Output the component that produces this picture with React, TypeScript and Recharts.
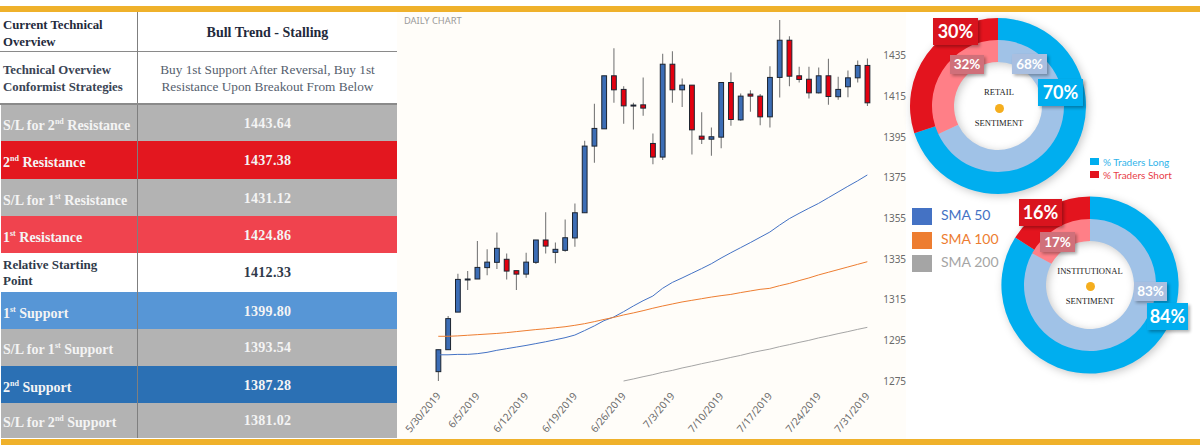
import React from "react";
import { ComposedChart, Bar, Line, XAxis, YAxis, PieChart, Pie, Cell } from "recharts";

const dates = ["5/30/2019","5/31/2019","6/3/2019","6/4/2019","6/5/2019","6/6/2019","6/7/2019","6/10/2019","6/11/2019","6/12/2019","6/13/2019","6/14/2019","6/17/2019","6/18/2019","6/19/2019","6/20/2019","6/21/2019","6/24/2019","6/25/2019","6/26/2019","6/27/2019","6/28/2019","7/1/2019","7/2/2019","7/3/2019","7/4/2019","7/5/2019","7/8/2019","7/9/2019","7/10/2019","7/11/2019","7/12/2019","7/15/2019","7/16/2019","7/17/2019","7/18/2019","7/19/2019","7/22/2019","7/23/2019","7/24/2019","7/25/2019","7/26/2019","7/29/2019","7/30/2019","7/31/2019"];
const tickDates = ["5/30/2019","6/5/2019","6/12/2019","6/19/2019","6/26/2019","7/3/2019","7/10/2019","7/17/2019","7/24/2019","7/31/2019"];
const priceTicks = [1275,1295,1315,1335,1355,1375,1395,1415,1435];

const opens = [1279.6,1290.4,1308.9,1325,1325.2,1330.8,1333.4,1334.9,1329.3,1327.6,1333.4,1344.4,1338.3,1339.3,1345.4,1357.8,1390.6,1399.1,1425.2,1418.5,1410.8,1410.9,1391.9,1385.2,1430.9,1418.3,1420.6,1395.5,1394,1395,1421.9,1403.5,1416.2,1415.2,1405,1424.4,1442.7,1425.2,1423.5,1416.8,1425.2,1414.9,1419.8,1424.2,1430.3];
const closes = [1290.4,1305.7,1325,1325.2,1330.9,1333.5,1340.3,1329.1,1327.6,1333.5,1344.4,1341.4,1339.8,1345.5,1357.8,1390.6,1399.3,1425.2,1418.3,1410.4,1410.6,1409.3,1385.2,1430.9,1418.3,1420.6,1398.6,1394,1395.2,1421.9,1403.7,1415.2,1415.2,1405,1424.4,1442.7,1425,1423.4,1416.8,1425.2,1415,1418.5,1424.2,1430.3,1411.9];
const highs = [1290.4,1307,1327.8,1329.1,1343.9,1339.8,1348.1,1337.8,1329.3,1338.1,1344.4,1358.1,1343.2,1354.5,1362.4,1393.2,1411.4,1425.2,1438.8,1420.1,1411.9,1424.4,1396.8,1436,1437.3,1423.9,1420.6,1407.3,1399.8,1421.9,1426.8,1416.5,1418.1,1416.2,1429.9,1452.6,1444.7,1429.6,1429.6,1429.3,1433.6,1424.7,1427.8,1432.7,1433.7];
const lows = [1275,1290.4,1308.9,1319.8,1325.2,1327,1330.1,1325,1319.8,1325.8,1332.6,1337.8,1332.9,1338.6,1341.1,1357.8,1382.4,1399.1,1411.9,1401.6,1398.8,1405.5,1381.7,1383.7,1411.9,1409.9,1386.5,1391.6,1385.8,1389.6,1400.6,1403.1,1407.5,1400.9,1399.8,1414.5,1420.1,1421.9,1414,1416.5,1410.9,1413.4,1414.7,1421.9,1410.3];
const sma50 = [1287.9,1287.9,1288.1,1288.1,1288.45,1289.1,1290.1,1290.9,1291.7,1292.5,1293.4,1294.3,1295.3,1296.3,1297.6,1299.8,1302.1,1304.7,1306.5,1309.1,1311.9,1314.5,1316.8,1320.6,1323.5,1325.7,1328,1330.3,1332.7,1335.5,1338.1,1340.6,1343.1,1345.7,1348.3,1351.7,1354.9,1357.5,1360,1362.4,1365.2,1368,1370.8,1373.5,1376.4];
const sma100 = [1297,1297,1297.2,1297.5,1297.8,1298.1,1298.4,1298.8,1299.3,1299.8,1300.3,1300.7,1301.2,1301.7,1302.4,1303.2,1304.2,1305.3,1306.3,1307.5,1308.5,1309.6,1310.8,1311.9,1312.9,1313.9,1314.7,1315.5,1316.3,1317,1317.6,1318.5,1319.3,1320.1,1320.6,1321.9,1323,1324.4,1325.7,1327.2,1328.5,1329.8,1331.1,1332.4,1333.7];
const sma200 = [null,null,null,null,null,null,null,null,null,null,null,null,null,null,null,null,null,null,null,1275,1276,1277.1,1278.1,1279.3,1280.2,1281.4,1282.4,1283.5,1284.5,1285.5,1286.6,1287.6,1288.8,1289.8,1290.7,1291.9,1292.9,1294,1295,1296.2,1297.2,1298.3,1299.3,1300.4,1301.4];

const smaNames = ["SMA 50","SMA 100","SMA 200"];
const retailOuter = [70,30];
const retailInner = [68,32];
const instOuter = [84,16];
const instInner = [83,17];
const traderNames = ["% Traders Long","% Traders Short"];

const rowLabels: [string,string,string][] = [
  ["S/L for 2","nd"," Resistance"],
  ["2","nd"," Resistance"],
  ["S/L for 1","st"," Resistance"],
  ["1","st"," Resistance"],
  ["Relative Starting Point","",""],
  ["1","st"," Support"],
  ["S/L for 1","st"," Support"],
  ["2","nd"," Support"],
  ["S/L for 2","nd"," Support"],
];
const rowValues = ["1443.64","1437.38","1431.12","1424.86","1412.33","1399.80","1393.54","1387.28","1381.02"];

/* layout and style (not data) */
const rowEdges = [104,141,178.5,216,253.3,291.7,329,365.7,403.3,438];
const rowFills = ["#B3B3B3","#E3171F","#B3B3B3","#F0434E","#FFFFFF","#5796D6","#B3B3B3","#2B70B4","#B3B3B3"];
const GOLD = "#EFB12B";
const SERIF = "'Liberation Serif', serif";
const LONG = "#00AEEF", SHORT = "#E3141E", LONG2 = "#A0C2E7", SHORT2 = "#FF7F87";

const chartData = dates.map((d,i)=>({date:d,open:opens[i],close:closes[i],range:[lows[i],highs[i]],sma50:sma50[i],sma100:sma100[i],sma200:sma200[i]}));

function Candle(props:any){
  const {x,y,width,height,payload} = props;
  const [lo,hi] = payload.range;
  const scale = height/(hi-lo||1);
  const cx = x+width/2;
  const yOf = (v:number)=>y+(hi-v)*scale;
  const up = payload.close>=payload.open;
  const top = yOf(Math.max(payload.open,payload.close));
  const bot = yOf(Math.min(payload.open,payload.close));
  const w = 4.8;
  return (
    <g>
      <line x1={cx} x2={cx} y1={y} y2={y+height} stroke="#7A7A7A" strokeWidth={1.1}/>
      <rect x={cx-w/2} y={top} width={w} height={Math.max(bot-top,1)} fill={up?"#3C6DB5":"#E3000F"} stroke="#1C2430" strokeWidth={1}/>
    </g>
  );
}

function DateTick(props:any){
  const {x,y,payload} = props;
  return (
    <text x={x+3} y={y+3} transform={`rotate(-50 ${x+3} ${y+3})`} textAnchor="end" fontSize={10.2} fill="#6A6A6A" fontFamily="'Noto Sans', sans-serif">
      {payload.value}
    </text>
  );
}

function Donut({outer,inner,cx,cy,r}:{outer:number[];inner:number[];cx:number;cy:number;r:number}){
  const size = 210;
  return (
    <div style={{position:"absolute",left:cx-size/2,top:cy-size/2,filter:"drop-shadow(2px 2px 4px rgba(0,0,0,0.22))"}}>
      <PieChart width={size} height={size} margin={{top:0,right:0,bottom:0,left:0}}>
        <Pie data={outer.map(v=>({v}))} dataKey="v" cx="50%" cy="50%" innerRadius={65} outerRadius={r} startAngle={90} endAngle={-270} stroke="none" isAnimationActive={false}>
          <Cell fill={LONG}/><Cell fill={SHORT}/>
        </Pie>
        <Pie data={inner.map(v=>({v}))} dataKey="v" cx="50%" cy="50%" innerRadius={44} outerRadius={66} startAngle={90} endAngle={-270} stroke="none" isAnimationActive={false}>
          <Cell fill={LONG2}/><Cell fill={SHORT2}/>
        </Pie>
      </PieChart>
    </div>
  );
}

function Tag({x,y,w,h,bg,size,children}:{x:number;y:number;w:number;h:number;bg:string;size:number;children:React.ReactNode}){
  return <div style={{position:"absolute",left:x,top:y,width:w,height:h,background:bg,color:"#fff",fontFamily:"Lato, sans-serif",fontWeight:700,fontSize:size,lineHeight:`${h}px`,textAlign:"center",boxShadow:"2px 2px 3px rgba(0,0,0,0.3)"}}>{children}</div>;
}

function Mid({x,y,w,children}:{x:number;y:number;w:number;children:React.ReactNode}){
  return <div style={{position:"absolute",left:x-w/2,top:y-6,width:w,height:12,lineHeight:"12px",textAlign:"center",fontFamily:SERIF,fontSize:8.6,color:"#222"}}>{children}</div>;
}

function Dot({x,y}:{x:number;y:number}){
  return <div style={{position:"absolute",left:x-4.5,top:y-4.5,width:9,height:9,borderRadius:"50%",background:"#F5AE1E"}}/>;
}

function Table(){
  const cellBase:React.CSSProperties = {position:"absolute",fontFamily:SERIF,fontWeight:700,boxSizing:"border-box"};
  return (
    <>
      <div style={{...cellBase,left:3,top:12,width:132,height:39,fontSize:12.8,lineHeight:"16.5px",color:"#1F2A3C",paddingTop:5}}>Current Technical<br/>Overview</div>
      <div style={{...cellBase,left:138,top:13,width:259,height:39,fontSize:14,lineHeight:"39px",color:"#1F2A3C",textAlign:"center"}}>Bull Trend - Stalling</div>
      <div style={{position:"absolute",left:0,top:50.5,width:397,height:1.5,background:"#8A8A8A"}}/>
      <div style={{...cellBase,left:3,top:52,width:132,height:51,fontSize:12.8,lineHeight:"16.5px",color:"#3A4454",paddingTop:10}}>Technical Overview<br/>Conformist Strategies</div>
      <div style={{...cellBase,fontWeight:400,left:138,top:52,width:259,height:51,fontSize:13.3,lineHeight:"17px",color:"#55606E",textAlign:"center",paddingTop:9}}>Buy 1st Support After Reversal, Buy 1st<br/>Resistance Upon Breakout From Below</div>
      {rowLabels.map((lab,i)=>{
        const top = rowEdges[i], h = rowEdges[i+1]-top, fill = rowFills[i];
        const light = fill!=="#FFFFFF";
        const color = light?"#F4F4F4":"#2F3A4A";
        return (
          <React.Fragment key={i}>
            <div style={{position:"absolute",left:1,top,width:396,height:h,background:fill}}/>
            <div style={{...cellBase,left:3,top,width:light?134:110,height:h,color,fontSize:light?14:13,lineHeight:light?`${h+6}px`:"16.5px",paddingTop:light?0:3.5,whiteSpace:light?"nowrap":"normal"}}>
              {lab[0]}{lab[1]?<sup style={{fontSize:8,lineHeight:0}}>{lab[1]}</sup>:null}{lab[2]}
            </div>
            <div style={{...cellBase,left:138,top:top+1,width:259,height:h,color,fontSize:14,lineHeight:`${h}px`,textAlign:"center",letterSpacing:0.3}}>{rowValues[i]}</div>
          </React.Fragment>
        );
      })}
      <div style={{position:"absolute",left:136.5,top:12,width:1.5,height:426,background:"#7F7F7F"}}/>
      <div style={{position:"absolute",left:0,top:103,width:397,height:1.5,background:"#8A8A8A"}}/>
    </>
  );
}

export default function App(){
  const smaColors = ["#4472C4","#ED7D31","#A5A5A5"];
  const smaTops = [208,232,255];
  return (
    <div style={{position:"absolute",left:0,top:0,width:1200,height:447,background:"#fff",overflow:"hidden"}}>
      <div style={{position:"absolute",left:397,top:12,width:509,height:427,background:"#FFFDF9"}}/>
      <Table/>
      <div style={{position:"absolute",left:404,top:14,fontFamily:"'Noto Sans', sans-serif",fontSize:9.3,color:"#9A9A9A",lineHeight:"13px"}}>DAILY CHART</div>
      <div style={{position:"absolute",left:397,top:11}}>
        <ComposedChart width={511} height={428} data={chartData} margin={{top:4.24,right:0,bottom:0,left:36.4}} barCategoryGap={0}>
          <XAxis dataKey="date" ticks={tickDates} interval={0} height={47.84} axisLine={false} tickLine={false} tickSize={0} tick={<DateTick/>} />
          <YAxis orientation="right" width={35.8} domain={[1270,1455]} ticks={priceTicks} allowDataOverflow axisLine={false} tickLine={false} tickSize={0} tickMargin={11} tick={{fontSize:10,fill:"#6A6A6A",fontFamily:"'Noto Sans', sans-serif"}} />
          <Bar dataKey="range" shape={<Candle/>} isAnimationActive={false}/>
          <Line dataKey="sma50" stroke={smaColors[0]} strokeWidth={1} dot={false} isAnimationActive={false}/>
          <Line dataKey="sma100" stroke={smaColors[1]} strokeWidth={1} dot={false} isAnimationActive={false}/>
          <Line dataKey="sma200" stroke={smaColors[2]} strokeWidth={1} dot={false} isAnimationActive={false}/>
        </ComposedChart>
      </div>
      {smaNames.map((n,i)=>(
        <React.Fragment key={n}>
          <div style={{position:"absolute",left:912,top:smaTops[i],width:20,height:17,background:smaColors[i]}}/>
          <div style={{position:"absolute",left:941,top:smaTops[i]-3,lineHeight:"20px",fontFamily:"Lato, sans-serif",fontSize:14,color:smaColors[i]}}>{n}</div>
        </React.Fragment>
      ))}

      <Donut outer={retailOuter} inner={retailInner} cx={997.5} cy={105.8} r={88}/>
      <Donut outer={instOuter} inner={instInner} cx={1090.3} cy={284.7} r={88.6}/>

      <Tag x={933} y={18} w={45} h={27} bg="#D9141E" size={18}>{retailOuter[1]}%</Tag>
      <Tag x={950} y={55} w={34} h={19} bg="#D0707A" size={13.5}>{retailInner[1]}%</Tag>
      <Tag x={1012} y={54} w={35} h={20} bg="#A9BFE0" size={13.5}>{retailInner[0]}%</Tag>
      <Tag x={1038} y={79} w={45} h={27} bg={LONG} size={18}>{retailOuter[0]}%</Tag>
      <Mid x={999} y={92} w={90}>RETAIL</Mid>
      <Dot x={999} y={108}/>
      <Mid x={999} y={122.5} w={90}>SENTIMENT</Mid>

      <Tag x={1019} y={199} w={43} h={27} bg="#D9141E" size={18}>{instOuter[1]}%</Tag>
      <Tag x={1040} y={232} w={35} h={20} bg="#D0707A" size={13.5}>{instInner[1]}%</Tag>
      <Tag x={1134} y={282} w={33} h={19} bg="#A9BFE0" size={13.5}>{instInner[0]}%</Tag>
      <Tag x={1147} y={303} w={41} h={27} bg={LONG} size={18}>{instOuter[0]}%</Tag>
      <Mid x={1090} y={270.5} w={90}>INSTITUTIONAL</Mid>
      <Dot x={1090} y={286.5}/>
      <Mid x={1090} y={301} w={90}>SENTIMENT</Mid>

      {traderNames.map((n,i)=>(
        <React.Fragment key={n}>
          <div style={{position:"absolute",left:1090,top:158+i*13,width:8.5,height:7,background:i?SHORT:LONG}}/>
          <div style={{position:"absolute",left:1103,top:155.5+i*13,lineHeight:"12px",fontFamily:"Lato, sans-serif",fontSize:10,color:i?"#E8404A":"#2FB4EA"}}>{n}</div>
        </React.Fragment>
      ))}

      <div style={{position:"absolute",left:0,top:6,width:1200,height:6,background:GOLD}}/>
      <div style={{position:"absolute",left:1,top:438.5,width:1199,height:6.5,background:GOLD}}/>
    </div>
  );
}
